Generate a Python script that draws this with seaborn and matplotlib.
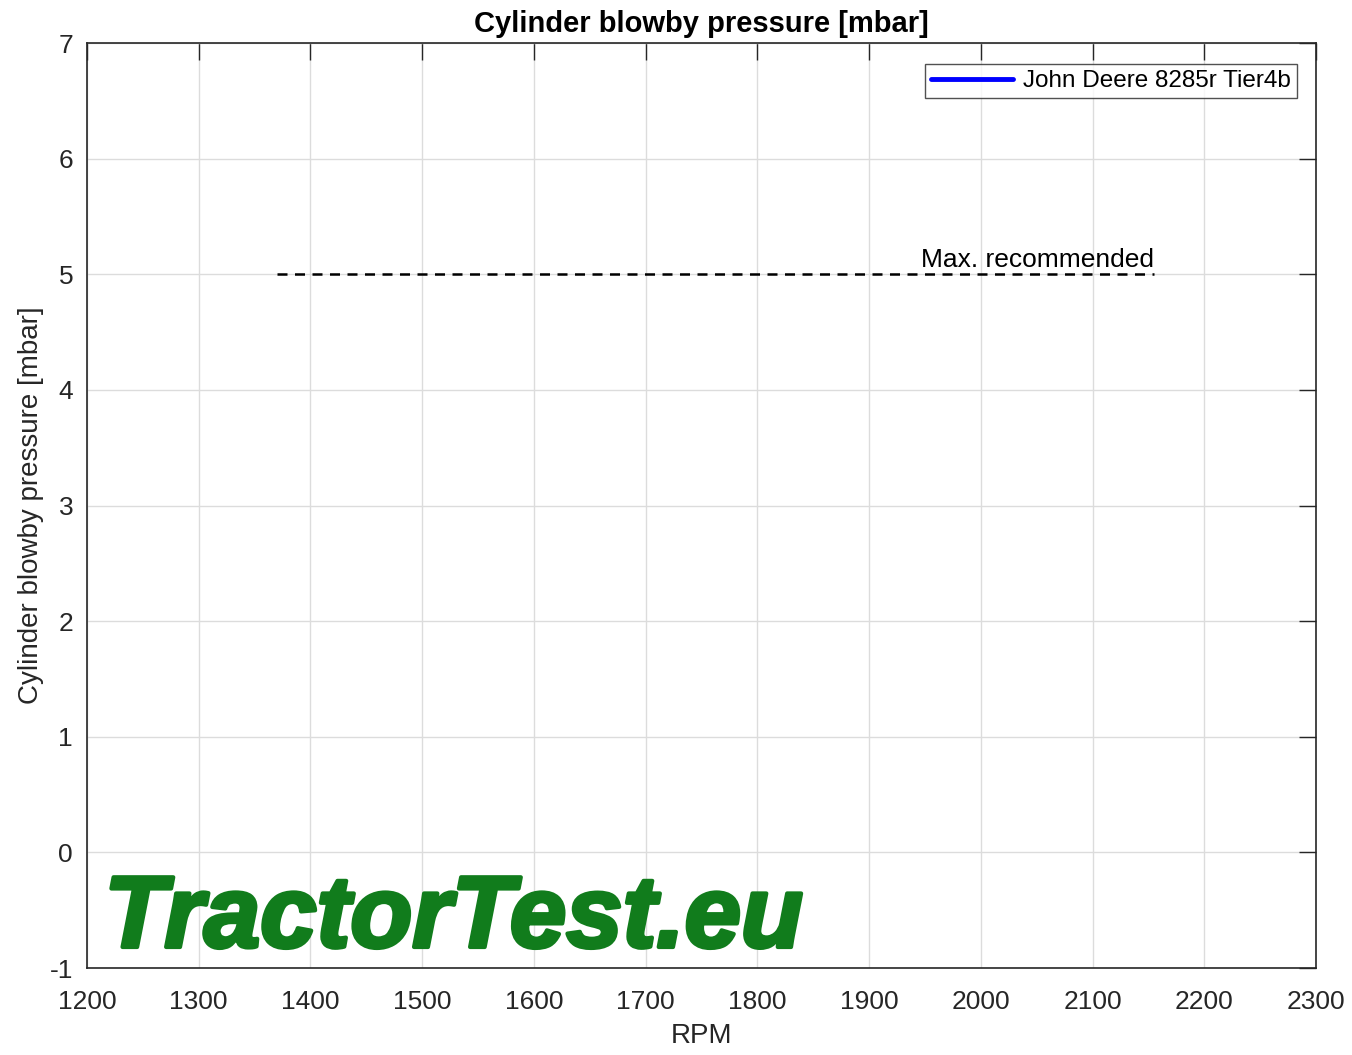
import numpy as np
import pandas as pd
import matplotlib
matplotlib.use("Agg")
import matplotlib.pyplot as plt
import matplotlib.patheffects as pe
import seaborn as sns

# series shown in the legend has no visible points in the chart
rpm = [np.nan]
blowby = [np.nan]
tractor = "John Deere 8285r Tier4b"

limit_rpm = [1370, 2155]
limit_value = [5, 5]

x_ticks = list(range(1200, 2301, 100))
y_ticks = list(range(-1, 8))

sns.set_theme(style="whitegrid")
plt.rcParams['font.family'] = ['Liberation Sans', 'DejaVu Sans']
plt.rcParams['axes.unicode_minus'] = False

fig = plt.figure(figsize=(13.52, 10.55), dpi=100)
ax = fig.add_axes([87 / 1352, 1 - 968 / 1055, (1316 - 87) / 1352, (968 - 43) / 1055])

df = pd.DataFrame({'RPM': rpm, 'mbar': blowby})
ax.plot(df['RPM'], df['mbar'], color='#0000ff', lw=3.5, label=tractor)

lim = pd.DataFrame({'RPM': limit_rpm, 'mbar': limit_value})
sns.lineplot(data=lim, x='RPM', y='mbar', ax=ax, color='black', lw=1.8,
             linestyle=(0, (4, 3)), legend=False)
ax.text(limit_rpm[1], limit_value[0] + 0.02, 'Max. recommended', ha='right',
        va='bottom', fontsize=19, color='black')

ax.set_xlim(1200, 2300)
ax.set_ylim(-1, 7)
ax.set_xticks(x_ticks)
ax.set_yticks(y_ticks)
ax.grid(True, color='#dcdcdc', lw=1)
for s in ax.spines.values():
    s.set_color('#262626')
    s.set_linewidth(1.2)
ax.tick_params(direction='in', length=12, width=1, color='#262626',
               top=True, right=True, labelsize=19, labelcolor='#262626', pad=10)
ax.tick_params(axis='x', pad=16)
ax.set_xlabel('RPM', fontsize=20, color='#262626', labelpad=6)
ax.set_ylabel('Cylinder blowby pressure [mbar]', fontsize=20, color='#262626', labelpad=4)
ax.set_title('Cylinder blowby pressure [mbar]', fontsize=21, fontweight='bold',
             color='black', pad=8)

leg = ax.legend(loc='upper right', fontsize=17.5, frameon=True, fancybox=False,
                bbox_to_anchor=(0.9845, 0.977), borderaxespad=0, handlelength=3.4,
                borderpad=0.25, handletextpad=0.4)
leg.get_frame().set_edgecolor('#262626')
leg.get_frame().set_linewidth(1)
for t in leg.get_texts():
    t.set_color('black')

wm = ax.text(0.014, 0.0, 'TractorTest.eu', transform=ax.transAxes, fontsize=73,
             fontweight='bold', fontstyle='italic', color='#117c1c', ha='left', va='bottom')
wm.set_path_effects([pe.withStroke(linewidth=3, foreground='#117c1c')])

fig.savefig('out.png', dpi=100)
